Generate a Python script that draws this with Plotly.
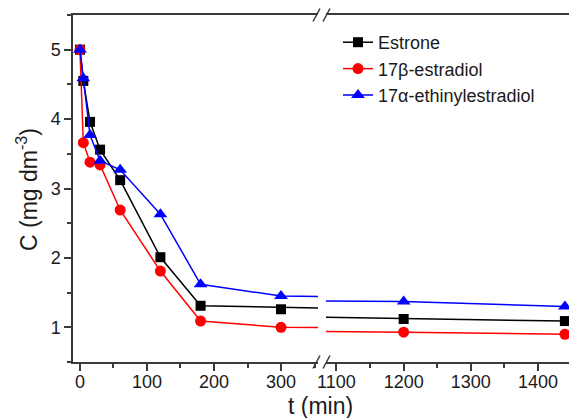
import plotly.graph_objects as go

# Sampling times (min) and concentrations (mg dm^-3)
t_min = [0, 5, 15, 30, 60, 120, 180, 300, 1200, 1440]
estrone = [5.00, 4.55, 3.96, 3.56, 3.12, 2.01, 1.31, 1.26, 1.12, 1.09]
estradiol_17b = [5.00, 3.66, 3.38, 3.34, 2.69, 1.81, 1.09, 1.00, 0.93, 0.90]
ethinylestradiol_17a = [5.00, 4.59, 3.77, 3.40, 3.27, 2.63, 1.62, 1.45, 1.37, 1.30]

series_names = ["Estrone", "17\u03b2-estradiol", "17\u03b1-ethinylestradiol"]
series_values = [estrone, estradiol_17b, ethinylestradiol_17a]
series_colors = ["#000000", "#ff0000", "#0000ff"]
series_symbols = ["square", "circle", "triangle-up"]
series_sizes = [10, 11, 12]

left_ticks = [0, 100, 200, 300]
right_ticks = [1100, 1200, 1300, 1400]

W, H = 569, 418
ML, MR, MT, MB = 73, 0, 15, 56
PW = W - ML - MR
PH = H - MT - MB

FONT = "Arial, Liberation Sans, sans-serif"
AXIS_COLOR = "#3a3a3a"
TEXT_COLOR = "#1a1a1a"

fig = go.Figure()

# Each series is drawn in both axis segments; clipping at each segment's
# edge produces the gap in the lines at the axis break.
for name, vals, col, sym, sz in zip(series_names, series_values, series_colors,
                                    series_symbols, series_sizes):
    for xa, show in (("x", True), ("x2", False)):
        fig.add_trace(go.Scatter(
            x=t_min, y=vals, xaxis=xa, yaxis="y",
            mode="lines+markers", name=name, showlegend=show,
            line=dict(color=col, width=1.5),
            marker=dict(symbol=sym, size=sz, color=col),
        ))

def px_x(p):
    return (p - ML) / PW

def px_y(p):
    return (H - MB - p) / PH

seg1_end = px_x(318)
seg2_start = px_x(326)

minor_ticks = dict(ticks="outside", ticklen=4, tickwidth=1.5, tickcolor=AXIS_COLOR)

common_axis = dict(
    showline=True, linecolor=AXIS_COLOR, linewidth=1.5, mirror=True,
    ticks="outside", ticklen=7, tickwidth=1.5, tickcolor=AXIS_COLOR,
    showgrid=False, zeroline=False,
    tickfont=dict(family=FONT, size=18, color=TEXT_COLOR),
)

fig.update_layout(
    width=W, height=H,
    margin=dict(l=ML, r=MR, t=MT, b=MB),
    paper_bgcolor="white", plot_bgcolor="white",
    xaxis=dict(common_axis, domain=[0, seg1_end], range=[-10.4, 355.2],
               anchor="y", tickvals=left_ticks, ticklabelstandoff=-4,
               minor=dict(minor_ticks, dtick=50, tick0=0)),
    xaxis2=dict(common_axis, domain=[seg2_start, 1], range=[1084.4, 1446.1],
                anchor="y", tickvals=right_ticks, ticklabelstandoff=-4,
                minor=dict(minor_ticks, dtick=50, tick0=0)),
    yaxis=dict(common_axis, mirror=False, range=[0.5, 5.5], anchor="x",
               tickvals=[1, 2, 3, 4, 5],
               minor=dict(minor_ticks, dtick=0.5, tick0=0)),
    legend=dict(
        x=px_x(338), y=px_y(24), xanchor="left", yanchor="top",
        bgcolor="rgba(0,0,0,0)", borderwidth=0,
        font=dict(family=FONT, size=18, color=TEXT_COLOR),
        tracegroupgap=0,
    ),
    showlegend=True,
)

# Axis titles
fig.add_annotation(
    text="t (min)", xref="paper", yref="paper",
    x=px_x(320), y=px_y(406), xanchor="center", yanchor="middle",
    showarrow=False, font=dict(family=FONT, size=23, color=TEXT_COLOR),
)
fig.add_annotation(
    text="C (mg dm<sup>-3</sup>)", xref="paper", yref="paper",
    x=px_x(27), y=px_y(190), xanchor="center", yanchor="middle",
    textangle=-90, showarrow=False,
    font=dict(family=FONT, size=23, color=TEXT_COLOR),
)

# Break marks "//" on the bottom and top axis lines
for py in (H - MB, MT):
    for cx in (316.5, 326.5):
        fig.add_shape(
            type="line", xref="paper", yref="paper",
            x0=px_x(cx - 3.5), y0=px_y(py + 6.5),
            x1=px_x(cx + 3.5), y1=px_y(py - 6.5),
            line=dict(color=AXIS_COLOR, width=1.5),
        )

fig.write_html("out.html")
